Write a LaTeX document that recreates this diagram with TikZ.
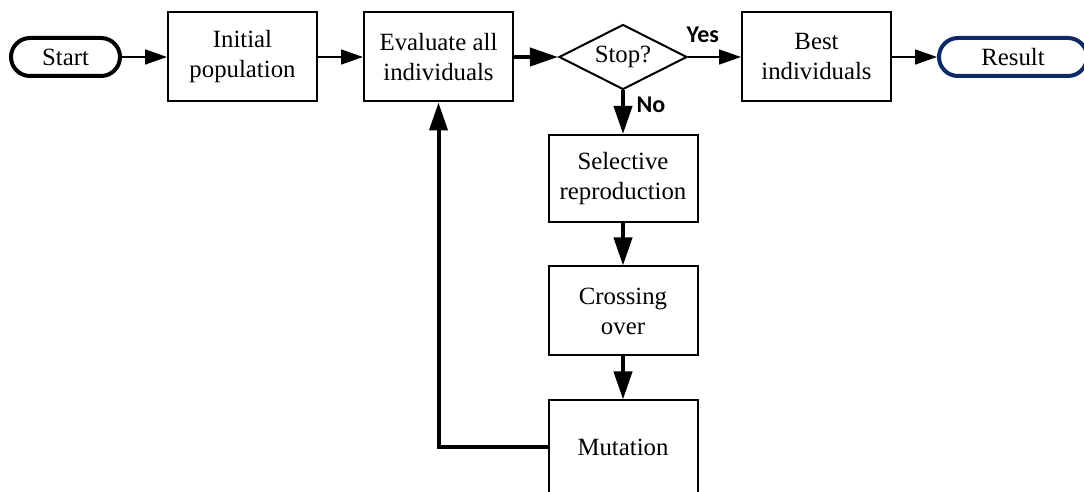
\documentclass[tikz,border=0pt]{standalone}
\usepackage{fontspec}
\setmainfont{Liberation Serif}
\newfontfamily\answerfont{Carlito}
\usetikzlibrary{arrows.meta, positioning, shapes.geometric}
\definecolor{resultnavy}{HTML}{0B2A66}

\begin{document}
\begin{tikzpicture}[
      font=\fontsize{12.4}{15}\selectfont,
      process/.style={draw, line width=1pt, minimum width=74.5pt,
        minimum height=44.5pt, align=center, inner sep=2pt},
      terminal/.style={draw, line width=2pt, rounded corners=9.5pt,
        minimum height=19pt, inner sep=2pt},
      decision/.style={diamond, draw, line width=1pt, aspect=2,
        minimum width=64pt, minimum height=32.5pt, inner sep=0pt},
      thinflow/.style={-{Triangle[length=11pt, width=7.5pt]},
        line width=0.8pt},
      thickflow/.style={-{Triangle[length=14pt, width=9pt]},
        line width=2pt},
      answer/.style={font=\answerfont\fontsize{12}{14}\selectfont\bfseries}
    ]
      \useasboundingbox (0,0) rectangle (542pt,-246pt);
      \node[terminal, minimum width=54.5pt] (start)
        at (32.75pt,-28.5pt) {Start};
      \node[process, right=22.5pt of start] (init)
        {Initial\\population};
      \node[process, right=22.5pt of init] (eval)
        {Evaluate all\\individuals};
      \node[decision, right=22pt of eval] (stop) {Stop?};
      \node[process, right=26.5pt of stop] (best)
        {Best\\individuals};
      \node[terminal, minimum width=74pt, draw=resultnavy,
        right=22.5pt of best] (result) {Result};
      \node[process, minimum height=43.5pt, below=21.75pt of stop] (select)
        {Selective\\reproduction};
      \node[process, below=21.25pt of select] (cross)
        {Crossing\\over};
      \node[process, minimum height=47pt, below=21.5pt of cross] (mutate)
        {Mutation};
      \draw[thinflow] (start) -- (init);
      \draw[thinflow] (init) -- (eval);
      \draw[thickflow, line cap=round] (eval) -- (stop);
      \draw[thinflow] (stop) -- node[answer, above, pos=0.28, yshift=3.5pt]
        {Yes} (best);
      \draw[thinflow] (best) -- (result);
      \draw[thickflow] (stop) -- node[answer, right, pos=0.32, xshift=2.5pt]
        {No} (select);
      \draw[thickflow] (select) -- (cross);
      \draw[thickflow] (cross) -- (mutate);
      \draw[thickflow] (mutate.west) -| (eval.south);
    \end{tikzpicture}
\end{document}
